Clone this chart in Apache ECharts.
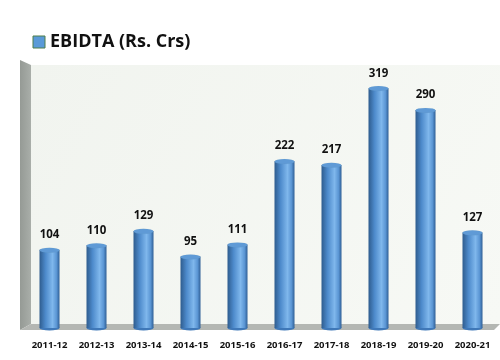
<!DOCTYPE html>
<html><head><meta charset="utf-8">
<script src="https://cdn.jsdelivr.net/npm/echarts@6/dist/echarts.min.js"></script>
<style>html,body{margin:0;padding:0;background:#fff}#c{width:500px;height:360px}</style>
</head><body><div id="c"></div>
<script>
const categories = ['2011-12','2012-13','2013-14','2014-15','2015-16','2016-17','2017-18','2018-19','2019-20','2020-21'];
const ebidta = [104,110,129,95,111,222,217,319,290,127];
const seriesName = 'EBIDTA (Rs. Crs)';

const chart = echarts.init(document.getElementById('c'), null, {renderer:'canvas'});
const barGrad = new echarts.graphic.LinearGradient(0,0,1,0,[
  {offset:0,color:'#2e5c8e'},{offset:0.3,color:'#4d8acb'},
  {offset:0.65,color:'#7fb7ec'},{offset:0.85,color:'#5b96d4'},{offset:1,color:'#2f5f96'}]);
chart.setOption({
  animation:false,
  backgroundColor:'#ffffff',
  grid:{left:26,width:470,top:65,bottom:32,containLabel:false},
  xAxis:{type:'category',data:categories,
    axisLine:{show:false},axisTick:{show:false},
    axisLabel:{interval:0,margin:12,fontFamily:'Open Sans',fontWeight:'bold',fontSize:9.5,color:'#111'}},
  yAxis:{type:'value',min:0,max:350,show:false,splitLine:{show:false}},
  series:[
    {name:seriesName,type:'bar',data:ebidta,barWidth:20,z:2,
      itemStyle:{color:barGrad},
      label:{show:true,position:'top',distance:9,fontFamily:'Open Sans',fontWeight:'bold',fontSize:11.5,color:'#111'}},
    {type:'pictorialBar',data:ebidta,symbol:'circle',symbolSize:[20,5],symbolPosition:'end',
      symbolOffset:[0,'-50%'],z:3,
      itemStyle:{color:'#5f9ad6',borderColor:'#5e8f4c',borderWidth:1.2}},
    {type:'pictorialBar',data:ebidta,symbol:'circle',symbolSize:[20,5],symbolPosition:'start',
      symbolOffset:[0,'50%'],z:1,
      itemStyle:{color:'#3f78b8'}}
  ]
});

function drawDecor(){
  const y0 = chart.convertToPixel({yAxisIndex:0},0);
  const yTop = chart.convertToPixel({yAxisIndex:0},350);
  const xFirst = chart.convertToPixel({xAxisIndex:0},categories[0]);
  const xLast = chart.convertToPixel({xAxisIndex:0},categories[categories.length-1]);
  const half = (xLast-xFirst)/(categories.length-1)/2;
  const L = xFirst-half, R = xLast+half;
  const wallL = L+5;
  chart.setOption({graphic:[
    {type:'rect',z:-10,shape:{x:wallL,y:yTop,width:R+4-wallL,height:y0-4-yTop},
      style:{fill:new echarts.graphic.LinearGradient(0,0,1,1,[{offset:0,color:'#f1f4ef'},{offset:1,color:'#f7f9f5'}])}},
    {type:'polygon',z:-9,shape:{points:[[L-6,yTop-5],[wallL,yTop],[wallL,y0-4],[L-6,y0+2]]},
      style:{fill:new echarts.graphic.LinearGradient(0,0,1,0,[{offset:0,color:'#959a95'},{offset:1,color:'#a9aea9'}])}},
    {type:'polygon',z:-9,shape:{points:[[wallL,y0-4],[R+4,y0-4],[R-2,y0+2],[L-6,y0+2]]},
      style:{fill:'#b4b7b3'}},
    {type:'rect',z:5,shape:{x:33,y:36,width:12,height:12},
      style:{fill:'#5a9ad8',stroke:'#4f7f4a',lineWidth:1}},
    {type:'text',z:5,x:50,y:42,style:{text:seriesName,fontFamily:'Open Sans',fontWeight:'bold',
      fontSize:18,fill:'#111',textVerticalAlign:'middle'}}
  ]});
}
drawDecor();
</script></body></html>
